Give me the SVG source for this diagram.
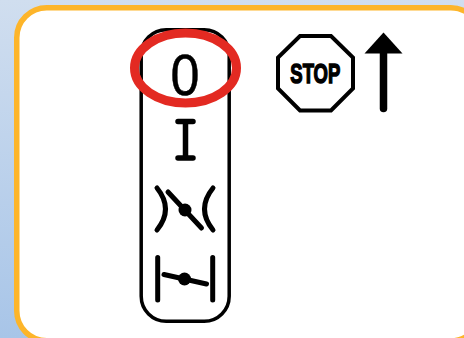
<svg xmlns="http://www.w3.org/2000/svg" width="464" height="338" viewBox="0 0 464 338">
  <defs>
    <linearGradient id="bg" x1="0" y1="0" x2="0" y2="1">
      <stop offset="0" stop-color="#d0deef"/>
      <stop offset="1" stop-color="#a8c5e8"/>
    </linearGradient>
    <style>
      .ink { fill: none; stroke: #000; stroke-linecap: round; stroke-linejoin: round; }
      .s4 { stroke-width: 5; }
      .dot { fill: #000; }
    </style>
  </defs>
  <rect width="464" height="338" fill="url(#bg)"/>
  <rect id="panel" x="16.75" y="7.75" width="464" height="333" rx="30" ry="30" fill="#fff" stroke="#fdb52a" stroke-width="5.5"/>
  <g id="selector">
    <rect x="141.200" y="29.700" width="88" height="291.600" rx="25" ry="25" fill="none" stroke="#000" stroke-width="3.500"/>
  </g>
  <g id="pos-zero">
    <text x="185" y="94.500" text-anchor="middle" font-family="'Liberation Sans', Arial, sans-serif" font-size="58" textLength="29" lengthAdjust="spacingAndGlyphs" fill="#000" stroke="#000" stroke-width="0.500">0</text>
  </g>
  <g id="pos-one">
    <path class="ink" d="M178 121.500H193M185.500 121.500V157.500M178 158H193" stroke-width="5.500"/>
  </g>
  <g id="pos-open">
    <path class="ink s4" d="M157 188Q174 209 157 230M213 188Q196 209 213 230M168 192L201.500 228"/>
    <circle class="dot" cx="185" cy="210" r="6.500"/>
  </g>
  <g id="pos-closed">
    <path class="ink s4" d="M157.700 257.500V300M212.700 257.500V300M164 274.500L206.500 284"/>
    <circle class="dot" cx="184.500" cy="279" r="6.500"/>
  </g>
  <g id="stop-sign">
    <polygon points="300,36 331,36 353,57.500 353,88.500 331,110.500 300,110.500 278,88.500 278,57.500" fill="#fff" stroke="#000" stroke-width="4" stroke-linejoin="miter"/>
    <text x="315.300" y="82.500" text-anchor="middle" font-family="'Liberation Sans', Arial, sans-serif" font-weight="700" font-size="28" textLength="50" lengthAdjust="spacingAndGlyphs" fill="#000" stroke="#000" stroke-width="1.500">STOP</text>
  </g>
  <g id="up-arrow">
    <polygon points="383.500,32.500 402.500,53.500 364.500,53.500" fill="#000"/>
    <path class="ink" d="M383.500 50V108.500" stroke-width="7.500"/>
  </g>
  <g id="connectors"></g>
  <g id="highlight">
    <ellipse cx="185.500" cy="68" rx="51" ry="35" fill="none" stroke="#e32a22" stroke-width="9"/>
  </g>
</svg>
